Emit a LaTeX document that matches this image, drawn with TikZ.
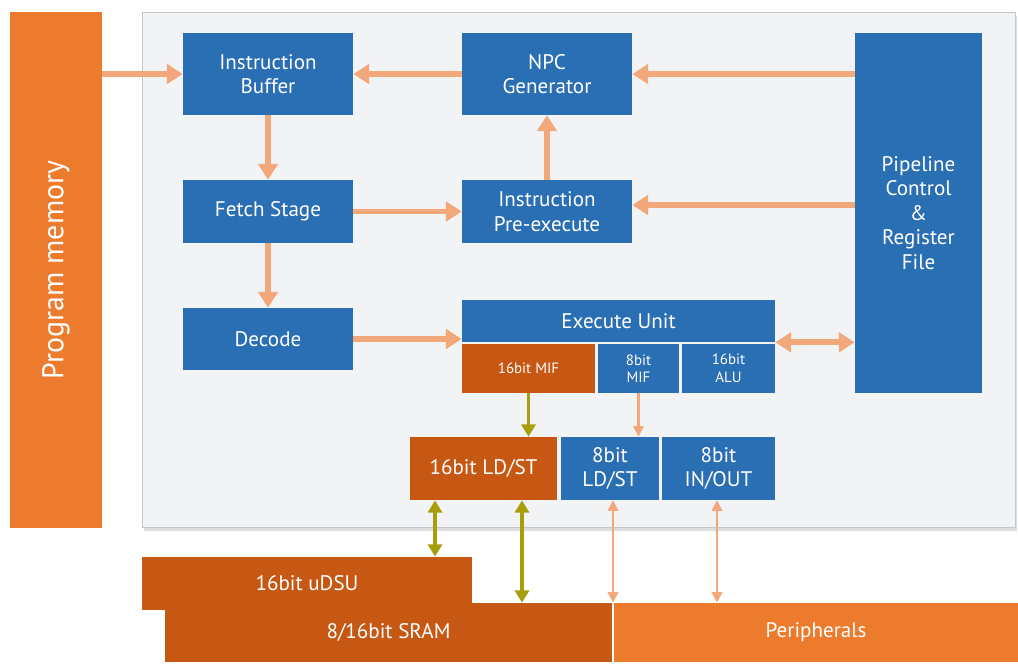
\documentclass[tikz,border=0pt]{standalone}
\usepackage{fontspec}
\setmainfont{PT Sans}
\usetikzlibrary{arrows.meta}

\definecolor{cpublue}{RGB}{42,110,180}
\definecolor{memorange}{RGB}{236,123,45}
\definecolor{darkorange}{RGB}{198,88,20}
\definecolor{salmon}{RGB}{242,168,122}
\definecolor{olive}{RGB}{168,158,10}
\definecolor{panelgray}{RGB}{242,243,245}
\definecolor{panelline}{RGB}{196,200,206}

\begin{document}
\begin{tikzpicture}[x=0.02cm,y=-0.02cm,
  blk/.style={rectangle,fill=cpublue,text=white,align=center,inner sep=1pt,font=\fontsize{12}{14}\selectfont},
  sub/.style={blk,font=\fontsize{8.5}{10}\selectfont},
  mem/.style={rectangle,fill=darkorange,text=white,align=center,inner sep=1pt,font=\fontsize{12}{14}\selectfont},
  bigflow/.style={draw=salmon,line width=3.4pt,-{Triangle[width=11pt,length=9pt]}},
  thinflow/.style={draw=salmon,line width=1.2pt,{Triangle[width=6pt,length=6pt]}-{Triangle[width=6pt,length=6pt]}},
  wideflow/.style={draw=olive,line width=1.8pt,{Triangle[width=8pt,length=7pt]}-{Triangle[width=8pt,length=7pt]}}]
\useasboundingbox (0,0) rectangle (1018,666);

% processor core background
\fill[panelline!60] (144,16) rectangle (1017,531);
\node[rectangle,fill=panelgray,draw=panelline,minimum width=17.46cm,minimum height=10.3cm] (core) at (578.5,269.5) {};

% program memory
\node[rectangle,fill=memorange,text=white,minimum width=1.84cm,minimum height=10.32cm] (pm) at (56,270) {};
\node[rotate=90,text=white,font=\fontsize{17}{20}\selectfont] (pmlabel) at (pm.center) {Program memory};

% pipeline blocks
\node[blk,minimum width=3.4cm,minimum height=1.64cm] (ib) at (268,74) {Instruction\\Buffer};
\node[blk,minimum width=3.4cm,minimum height=1.64cm] (npc) at (547,74) {NPC\\Generator};
\node[blk,minimum width=3.4cm,minimum height=1.26cm] (fetch) at (268,211.5) {Fetch Stage};
\node[blk,minimum width=3.4cm,minimum height=1.26cm] (pre) at (547,211.5) {Instruction\\Pre-execute};
\node[blk,minimum width=3.4cm,minimum height=1.24cm] (dec) at (268,339) {Decode};
\node[blk,minimum width=2.54cm,minimum height=7.2cm] (pcr) at (918.5,213) {Pipeline\\Control\\\&\\Register\\File};

% execute unit
\node[blk,minimum width=6.26cm,minimum height=0.84cm] (exu) at (618.5,321) {Execute Unit};
\node[sub,fill=darkorange,minimum width=2.66cm,minimum height=0.98cm] (mif16) at (528.5,368.5) {16bit MIF};
\node[sub,minimum width=1.64cm,minimum height=0.98cm] (mif8) at (638.5,368.5) {8bit\\MIF};
\node[sub,minimum width=1.86cm,minimum height=0.98cm] (alu) at (728.5,368.5) {16bit\\ALU};

% load/store units
\node[mem,minimum width=2.94cm,minimum height=1.26cm] (ldst16) at (483.5,468.5) {16bit LD/ST};
\node[blk,minimum width=1.98cm,minimum height=1.26cm] (ldst8) at (610,468.5) {8bit\\LD/ST};
\node[blk,minimum width=2.26cm,minimum height=1.26cm] (io8) at (718.5,468.5) {8bit\\IN/OUT};

% memories and peripherals
\node[mem,minimum width=6.6cm,minimum height=1.06cm] (udsu) at (307,583.5) {16bit uDSU};
\node[mem,minimum width=8.94cm,minimum height=1.18cm] (sram) at (388.5,632.5) {8/16bit SRAM};
\node[mem,fill=memorange,minimum width=8.08cm,minimum height=1.18cm] (per) at (816,632.5) {Peripherals};

% instruction flow
\draw[bigflow] (pm.east |- ib) -- (ib.west);
\draw[bigflow] (npc.west) -- (ib.east);
\draw[bigflow] (pcr.west |- npc) -- (npc.east);
\draw[bigflow] (ib.south) -- (fetch.north);
\draw[bigflow] (pre.north) -- (npc.south);
\draw[bigflow] (fetch.east) -- (pre.west);
\draw[bigflow] (pcr.west |- 0,205) -- (pre.east |- 0,205);
\draw[bigflow] (fetch.south) -- (dec.north);
\draw[bigflow] (dec.east) -- (dec.east -| exu.west);
\draw[bigflow,{Triangle[width=11pt,length=9pt]}-{Triangle[width=11pt,length=9pt]}] (exu.south east) -- (exu.south east -| pcr.west);

% data paths
\draw[draw=olive,line width=1.8pt,-{Triangle[width=8pt,length=7pt]}] (mif16.south) -- (mif16.south |- ldst16.north);
\draw[draw=salmon,line width=1.2pt,-{Triangle[width=6pt,length=6pt]}] (mif8.south) -- (mif8.south |- ldst8.north);
\draw[wideflow] ([xshift=-0.97cm]ldst16.south) -- ([xshift=-0.97cm]ldst16.south |- udsu.north);
\draw[wideflow] ([xshift=0.77cm]ldst16.south) -- ([xshift=0.77cm]ldst16.south |- sram.north);
\draw[thinflow] ([xshift=0.06cm]ldst8.south) -- ([xshift=0.06cm]ldst8.south |- per.north);
\draw[thinflow] ([xshift=-0.03cm]io8.south) -- ([xshift=-0.03cm]io8.south |- per.north);
\end{tikzpicture}
\end{document}
